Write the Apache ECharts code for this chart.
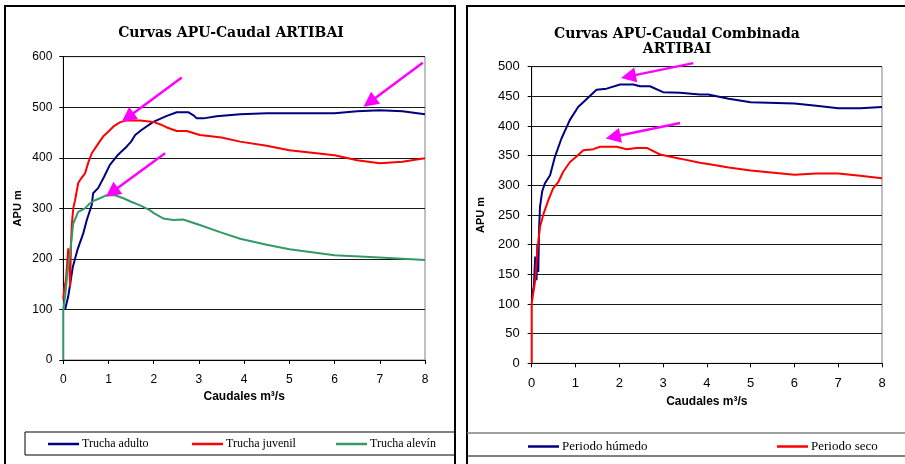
<!DOCTYPE html>
<html><head><meta charset="utf-8">
<script src="https://cdn.jsdelivr.net/npm/echarts@6/dist/echarts.min.js"></script>
<style>html,body{margin:0;padding:0;background:#fff}#c{width:905px;height:464px}</style>
</head><body><div id="c"></div>
<script>
// ---- Data (left chart) ----
var adultoQ   = [0.04,0.11,0.21,0.32,0.44,0.52,0.63,0.66,0.77,0.90,1.03,1.20,1.40,1.50,1.59,1.73,1.99,2.29,2.51,2.77,2.88,2.95,3.10,3.39,3.91,4.5,5,6,6.5,7,7.5,8];
var adultoAPU = [100,126,184,220,250,277,307,330,340,362,386,405,422,432,445,455,471,483,490,490,484,478,478,482,486,488,488,488,492,494,492,486];
var juvenilQ   = [0,0.02,0.06,0.11,0.13,0.15,0.17,0.19,0.22,0.26,0.33,0.40,0.48,0.55,0.63,0.75,0.88,1.0,1.11,1.25,1.40,1.70,1.99,2.15,2.29,2.51,2.73,3.02,3.5,3.91,4.5,5,6,6.5,7,7.5,8];
var juvenilAPU = [120,140,160,221,200,145,230,270,300,316,350,360,369,390,409,425,442,452,462,470,474,474,471,466,460,453,453,445,440,432,424,415,405,395,389,392,399];
var alevinQ   = [0,0,0.04,0.10,0.15,0.22,0.33,0.48,0.59,0.70,0.81,0.96,1.14,1.33,1.50,1.70,1.92,2.01,2.21,2.43,2.65,3.02,3.5,3.91,4.5,5,6,7,8];
var alevinAPU = [0,100,125,180,212,270,293,300,310,316,320,326,326,320,313,306,296,290,280,277,278,267,252,240,228,219,207,203,198];
// ---- Data (right chart) ----
var humedoQ   = [0,0.05,0.08,0.11,0.13,0.15,0.17,0.19,0.24,0.30,0.42,0.53,0.68,0.87,1.06,1.22,1.48,1.71,2.02,2.32,2.47,2.70,3.00,3.39,3.84,4.03,4.5,5,6,6.5,7,7.5,8];
var humedoAPU = [112,130,180,140,200,154,230,264,290,303,317,348,379,410,432,443,461,463,470,470,467,467,457,456,453,453,446,440,438,434,430,430,432];
var secoQ   = [0,0,0.08,0.13,0.19,0.27,0.38,0.49,0.61,0.72,0.87,1.03,1.18,1.41,1.56,1.94,2.17,2.40,2.63,2.93,3.39,3.84,4.03,4.5,5,6,6.5,7,7.5,8];
var secoAPU = [0,101,140,191,230,252,275,295,306,323,339,349,359,361,365,365,361,363,363,352,345,338,336,330,325,318,320,320,316,312];
// ---- Annotation arrows [fromQ, fromAPU, tipQ, tipAPU] ----
var arrowsLeft  = [[2.62,559,1.29,471],[2.25,409,0.94,323],[7.95,588,6.64,501]];
var arrowsRight = [[3.69,506,2.04,481],[3.39,405,1.69,379]];
// ---- Labels ----
var leftTitle = 'Curvas APU-Caudal ARTIBAI';
var rightTitle = 'Curvas APU-Caudal Combinada\nARTIBAI';
var yName = 'APU m', xName = 'Caudales m\u00b3/s';
var leftNames = ['Trucha adulto','Trucha juvenil','Trucha alevín'];
var rightNames = ['Periodo húmedo','Periodo seco'];

function pairs(xs, ys){ return xs.map(function(x,i){ return [x, ys[i]]; }); }

var tickFont = {fontFamily:'Liberation Sans', color:'#000'};
function xAx(gi, fs){
  return {type:'value', gridIndex:gi, min:0, max:8, interval:1,
    name:xName, nameLocation:'middle', nameGap: 31,
    nameTextStyle:{fontFamily:'Liberation Sans', fontWeight:'bold', fontSize:12, color:'#000'},
    axisLine:{onZero:false, lineStyle:{color:'#000', width:1}},
    axisTick:{show:true, length:4, lineStyle:{color:'#000'}},
    axisLabel:Object.assign({fontSize:fs, margin:14}, tickFont),
    splitLine:{show:false}};
}
function yAx(gi, max, iv, fs, gap, mg){
  return {type:'value', gridIndex:gi, min:0, max:max, interval:iv,
    name:yName, nameLocation:'middle', nameGap:gap, nameRotate:90,
    nameTextStyle:{fontFamily:'Liberation Sans', fontWeight:'bold', fontSize:11, color:'#000'},
    axisLine:{show:true, lineStyle:{color:'#000', width:1}},
    axisTick:{show:true, length:4, lineStyle:{color:'#000'}},
    axisLabel:Object.assign({fontSize:fs, margin:mg}, tickFont),
    splitLine:{show:true, lineStyle:{color:'#1a1a1a', width:1}}};
}
function ser(name, xi, color, xs, ys){
  return {name:name, type:'line', xAxisIndex:xi, yAxisIndex:xi, data:pairs(xs,ys),
    showSymbol:false, symbol:'none', smooth:false, animation:false,
    lineStyle:{color:color, width:2}, itemStyle:{color:color}};
}
function leg(name, left, top, fs){
  return {data:[name], left:left, top:top, padding:0, icon:'rect', itemWidth:31, itemHeight:2.5, itemGap:4,
    textStyle:{fontFamily:'Liberation Serif', fontSize:fs, color:'#000', padding:[0,0,0,-2]}, selectedMode:false};
}
var colors = ['#000080','#ff0000','#339966'];

var baseGraphics = [
  {type:'rect', shape:{x:5, y:6, width:450, height:480}, style:{fill:'none', stroke:'#000', lineWidth:2}, silent:true, z:-1},
  {type:'rect', shape:{x:25, y:432, width:430, height:23}, style:{fill:'none', stroke:'#000', lineWidth:1}, silent:true, z:-1},
  {type:'rect', shape:{x:467, y:6, width:460, height:480}, style:{fill:'none', stroke:'#000', lineWidth:2}, silent:true, z:-1},
  {type:'line', shape:{x1:467, y1:433, x2:905, y2:433}, style:{stroke:'#808080', lineWidth:1.5}, silent:true, z:-1},
  {type:'line', shape:{x1:467, y1:456, x2:905, y2:456}, style:{stroke:'#000', lineWidth:1}, silent:true, z:-1},
  {type:'text', x:231, y:33, style:{text:leftTitle, font:'bold 14px "DejaVu Serif"', fill:'#000', align:'center', verticalAlign:'middle'}},
  {type:'text', x:677, y:42, style:{text:rightTitle, font:'bold 14px "DejaVu Serif"', lineHeight:15, fill:'#000', align:'center', verticalAlign:'middle'}}
];

var chart = echarts.init(document.getElementById('c'), null, {renderer:'canvas'});
chart.setOption({
  animation:false,
  backgroundColor:'#fff',
  grid:[
    {left:63.3, right:480, top:56.7, bottom:104, show:true, borderColor:'#808080', borderWidth:1, containLabel:false},
    {left:531.7, right:23, top:66.7, bottom:100.7, show:true, borderColor:'#808080', borderWidth:1, containLabel:false}
  ],
  xAxis:[xAx(0,12), xAx(1,13)],
  yAxis:[yAx(0,600,100,12,40,11), yAx(1,500,50,13,45,12)],
  legend:[
    leg(leftNames[0], 48, 438, 12), leg(leftNames[1], 192, 438, 12), leg(leftNames[2], 336, 438, 12),
    leg(rightNames[0], 528, 440, 13), leg(rightNames[1], 777, 440, 13)
  ],
  graphic: baseGraphics,
  series:[
    ser(leftNames[0], 0, colors[0], adultoQ, adultoAPU),
    ser(leftNames[1], 0, colors[1], juvenilQ, juvenilAPU),
    ser(leftNames[2], 0, colors[2], alevinQ, alevinAPU),
    ser(rightNames[0], 1, colors[0], humedoQ, humedoAPU),
    ser(rightNames[1], 1, colors[1], secoQ, secoAPU)
  ]
});

// Arrows positioned through the chart's own scales
function arrowGraphics(arr, gi){
  var out = [];
  arr.forEach(function(a){
    var p0 = chart.convertToPixel({gridIndex:gi}, [a[0], a[1]]);
    var p1 = chart.convertToPixel({gridIndex:gi}, [a[2], a[3]]);
    var dx = p1[0]-p0[0], dy = p1[1]-p0[1], L = Math.sqrt(dx*dx+dy*dy);
    var ux = dx/L, uy = dy/L, hl = 15, hw = 7.5;
    var bx = p1[0]-ux*hl, by = p1[1]-uy*hl;
    out.push({type:'line', shape:{x1:p0[0], y1:p0[1], x2:bx+ux*2, y2:by+uy*2}, style:{stroke:'#ff00ff', lineWidth:2.5}, silent:true, z:50});
    out.push({type:'polygon', shape:{points:[[p1[0],p1[1]],[bx-uy*hw, by+ux*hw],[bx+uy*hw, by-ux*hw]]}, style:{fill:'#ff00ff'}, silent:true, z:50});
  });
  return out;
}
chart.setOption({graphic: baseGraphics.concat(arrowGraphics(arrowsLeft,0), arrowGraphics(arrowsRight,1))});
</script></body></html>
